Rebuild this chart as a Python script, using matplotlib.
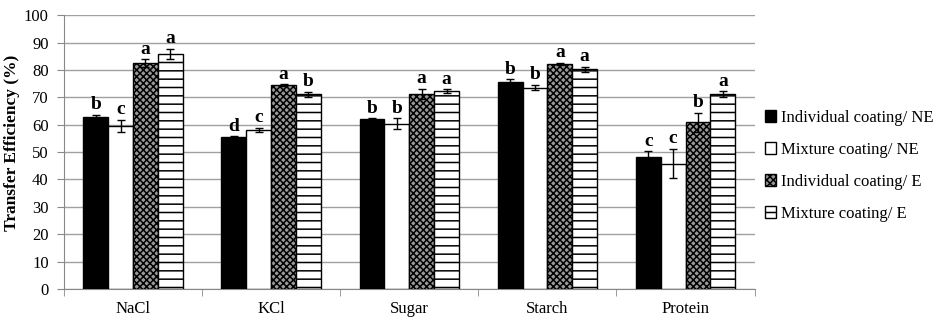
import numpy as np
import matplotlib.pyplot as plt
from matplotlib.patches import Patch

plt.rcParams['font.family'] = ['Liberation Serif', 'DejaVu Serif']
plt.rcParams['hatch.linewidth'] = 1.1

categories = ['NaCl', 'KCl', 'Sugar', 'Starch', 'Protein']
series = ['Individual coating/ NE', 'Mixture coating/ NE',
          'Individual coating/ E', 'Mixture coating/ E']

means = [
    [62.8, 55.4, 62.0, 75.6, 48.3],
    [59.5, 58.0, 60.3, 73.5, 45.8],
    [82.5, 74.5, 71.2, 82.2, 60.8],
    [85.8, 71.1, 72.2, 80.2, 71.2],
]
errors = [
    [0.8, 0.3, 0.3, 1.0, 2.0],
    [2.3, 0.8, 2.0, 1.0, 5.4],
    [1.3, 0.3, 1.8, 0.5, 3.5],
    [2.0, 1.0, 0.7, 1.0, 1.0],
]
letters = [
    ['b', 'd', 'b', 'b', 'c'],
    ['c', 'c', 'b', 'b', 'c'],
    ['a', 'a', 'a', 'a', 'b'],
    ['a', 'b', 'a', 'a', 'a'],
]

styles = [
    dict(facecolor='black', hatch=None),
    dict(facecolor='white', hatch=None),
    dict(facecolor='#999999', hatch='xxxxx'),
    dict(facecolor='white', hatch='--'),
]

fig = plt.figure(figsize=(9.48, 3.22), dpi=100)
ax = fig.add_axes([0.0675, 0.1025, 0.7285, 0.8505])

x = np.arange(len(categories))
width = 0.18
offsets = (np.arange(4) - 1.5) * width

for i in range(4):
    ax.bar(x + offsets[i], means[i], width, color=styles[i]['facecolor'],
           hatch=styles[i]['hatch'], edgecolor='black', linewidth=1.0, zorder=3)
    ax.errorbar(x + offsets[i], means[i], yerr=errors[i], fmt='none',
                ecolor='black', elinewidth=1.0, capsize=3, capthick=1.0, zorder=4)
    for j in range(len(categories)):
        ax.text(x[j] + offsets[i], means[i][j] + errors[i][j] + 0.6, letters[i][j],
                ha='center', va='bottom', fontsize=14, fontweight='bold', zorder=5)

ax.set_xlim(-0.5, len(categories) - 0.5)
ax.set_ylim(0, 100)
ax.set_yticks(np.arange(0, 101, 10))
ax.set_xticks(x)
ax.set_xticklabels(categories, fontsize=12)
ax.set_xticks(np.arange(-0.5, len(categories), 1), minor=True)
ax.tick_params(axis='x', which='major', length=0, pad=9)
ax.tick_params(axis='x', which='minor', length=5, color='#888888')
ax.tick_params(axis='y', labelsize=12, length=5, color='#888888', pad=6)
ax.grid(axis='y', color='#a0a0a0', linewidth=1.0, zorder=0)
ax.set_axisbelow(True)
for side in ['top', 'right']:
    ax.spines[side].set_visible(False)
ax.spines['left'].set_color('#888888')
ax.spines['bottom'].set_color('#888888')
ax.set_ylabel('Transfer Efficiency (%)', fontsize=12.5, fontweight='bold')
ax.yaxis.set_label_coords(-0.064, 0.535)

handles = [Patch(facecolor=s['facecolor'], hatch=s['hatch'], edgecolor='black')
           for s in styles]
ax.legend(handles, series, loc='center left', bbox_to_anchor=(1.0, 0.45),
          frameon=False, fontsize=12, handlelength=0.7, handleheight=0.7,
          handletextpad=0.3, labelspacing=0.95, borderaxespad=0.2)

fig.savefig('out.png', dpi=100)
